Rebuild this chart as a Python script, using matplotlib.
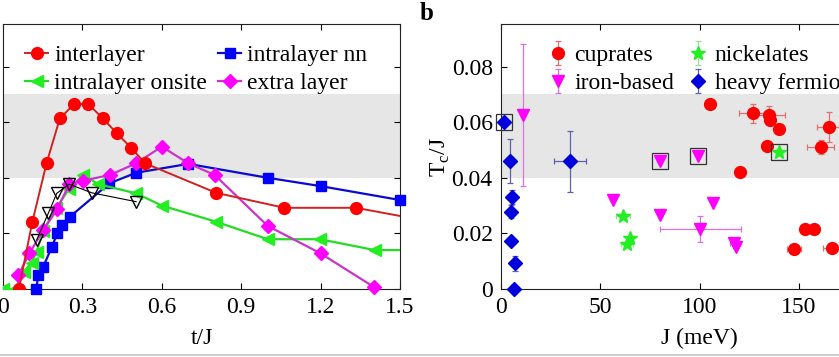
import matplotlib
matplotlib.use("Agg")
import matplotlib.pyplot as plt
from matplotlib.lines import Line2D
import numpy as np

plt.rcParams["font.family"] = ["Liberation Serif", "DejaVu Serif"]
plt.rcParams["mathtext.fontset"] = "custom"
plt.rcParams["mathtext.rm"] = "Liberation Serif"
plt.rcParams["font.size"] = 17

# ---- panel a: Tc/J vs t/J ----
t_inter = [0.06, 0.111, 0.165, 0.215, 0.269, 0.322, 0.377, 0.43, 0.484, 0.537, 0.805, 1.063, 1.334, 1.6]
tc_inter = [0, 0.0242, 0.0454, 0.0614, 0.0665, 0.0665, 0.0614, 0.056, 0.0508, 0.0452, 0.0346, 0.0292, 0.0292, 0.0245]

t_nn = [0.125, 0.134, 0.152, 0.184, 0.205, 0.224, 0.253, 0.402, 0.503, 0.70, 1.0, 1.2, 1.5]
tc_nn = [0, 0.005, 0.008, 0.015, 0.020, 0.023, 0.026, 0.038, 0.0418, 0.045, 0.040, 0.037, 0.032]

t_onsite = [0.0, 0.045, 0.079, 0.108, 0.127, 0.152, 0.2, 0.25, 0.304, 0.36, 0.503, 0.60, 0.805, 1.0, 1.198, 1.404, 1.6]
tc_onsite = [0, 0, 0.0062, 0.0095, 0.0134, 0.021, 0.029, 0.036, 0.041, 0.0377, 0.0344, 0.030, 0.0242, 0.0179, 0.0179, 0.014, 0.014]

t_extra = [0.058, 0.10, 0.152, 0.205, 0.25, 0.304, 0.404, 0.503, 0.60, 0.70, 0.80, 1.0, 1.2, 1.4]
tc_extra = [0.005, 0.0128, 0.0212, 0.0287, 0.0377, 0.039, 0.041, 0.0452, 0.0512, 0.0452, 0.041, 0.0227, 0.0128, 0.0008]

t_black = [0.127, 0.171, 0.203, 0.25, 0.335, 0.503]
tc_black = [0.0176, 0.0272, 0.0344, 0.0377, 0.0346, 0.0314]

# ---- panel b: Tc/J vs J for material families ----
cu_J = [105.2, 127.1, 135.0, 135.3, 140.0, 134.2, 120.2, 165.3, 161.1, 153.2, 157.7, 147.6, 166.5]
cu_tc = [0.0665, 0.0632, 0.0625, 0.0608, 0.0574, 0.0516, 0.042, 0.0582, 0.0512, 0.0215, 0.0215, 0.0143, 0.0146]
cu_Jerr = [0, 7.4, 8.0, 0, 0, 0, 0, 5.9, 6.7, 0, 0, 3.4, 4.5]
cu_tcerr = [0, 0.0035, 0.0034, 0, 0, 0, 0, 0.0053, 0.0025, 0, 0, 0, 0]

fe_J = [11.3, 80.0, 99.2, 56.4, 80.0, 106.9, 100.5, 117.5, 118.5]
fe_tc = [0.0625, 0.0462, 0.0478, 0.032, 0.0266, 0.031, 0.0215, 0.0165, 0.0152]
fe_Jerr = [0, 0, 0, 0, 0, 0, 20.2, 2.0, 0]
fe_tcerr = [0.0255, 0, 0, 0, 0, 0, 0.0046, 0, 0]

ni_J = [140.0, 61.5, 65.2, 63.5]
ni_tc = [0.0494, 0.0263, 0.0182, 0.0162]
ni_Jerr = [0, 3.4, 0, 3.0]
ni_tcerr = [0, 0, 0, 0]

hf_J = [1.7, 4.5, 34.8, 5.4, 4.9, 4.9, 7.1, 6.6]
hf_tc = [0.0602, 0.046, 0.046, 0.0332, 0.0278, 0.0174, 0.0092, 0.0]
hf_Jerr = [0, 0, 7.9, 0, 0, 0, 0, 0]
hf_tcerr = [0, 0.0078, 0.011, 0.0025, 0.0024, 0, 0.0028, 0]

box_J = [1.7, 80.0, 99.2, 140.0]
box_tc = [0.0602, 0.0462, 0.0478, 0.0494]

yticks = [0, 0.02, 0.04, 0.06, 0.08]
ytick_labels = ["0", "0.02", "0.04", "0.06", "0.08"]
a_xticks = [0, 0.3, 0.6, 0.9, 1.2, 1.5]
a_xtick_labels = ["0", "0.3", "0.6", "0.9", "1.2", "1.5"]
b_xticks = [0, 50, 100, 150, 200]

W, H = 839, 357
fig = plt.figure(figsize=(W / 100, H / 100), dpi=100)
axa = fig.add_axes([3 / W, 68 / H, 397 / W, 265 / H])
axb = fig.add_axes([501 / W, 68 / H, 397 / W, 265 / H])

for ax in (axa, axb):
    ax.axhspan(0.04, 0.07, color="#e6e6e6", zorder=0, lw=0)
    ax.set_ylim(0, 0.0953)
    ax.set_yticks(yticks)
    ax.set_yticklabels(ytick_labels)
    ax.tick_params(direction="in", top=True, right=True, length=4, width=0.8, pad=6, labelsize=17)
    for s in ax.spines.values():
        s.set_linewidth(0.8)
        s.set_color("#222222")

# the left panel's y labels lie outside the cropped picture
axa.tick_params(labelleft=False)

# panel a
axa.plot(t_nn, tc_nn, "-s", color="#0a0ad0", mfc="#0000ff", mec="#0000ff", ms=6.5, lw=1.6,
         label="intralayer nn", clip_on=False, zorder=3)
axa.plot(t_onsite, tc_onsite, "-<", color="#22dd22", mfc="#22ee22", mec="#22ee22", ms=8.5, lw=1.6,
         label="intralayer onsite", zorder=3)
axa.plot(t_extra, tc_extra, "-D", color="#cc33cc", mfc="#ff00ff", mec="#ff00ff", ms=7.5, lw=1.6,
         label="extra layer", clip_on=False, zorder=4)
axa.plot(t_inter, tc_inter, "-o", color="#d42020", mfc="#ff0000", mec="#ff0000", ms=8.5, lw=1.4,
         label="interlayer", zorder=5)
axa.plot(t_black, tc_black, "-v", color="black", mfc="none", mec="black", ms=8, lw=0.8, zorder=6)

axa.set_xlim(0, 1.5)
axa.set_xticks(a_xticks)
axa.set_xticklabels(a_xtick_labels)
axa.set_xlabel("t/J", labelpad=7)

h, l = axa.get_legend_handles_labels()
order = [3, 1, 0, 2]  # interlayer, onsite | nn, extra
axa.legend([h[i] for i in order], [l[i] for i in order], ncol=2, frameon=False,
           loc="upper left", bbox_to_anchor=(0.055, 0.922), borderpad=0, borderaxespad=0,
           handlelength=1.0, handletextpad=0.25, columnspacing=0.45, labelspacing=0.28, fontsize=17)

# panel b
ekw = dict(ls="none", elinewidth=0.9, capsize=2.5, capthick=0.9, clip_on=False)
axb.errorbar(cu_J, cu_tc, xerr=cu_Jerr, yerr=cu_tcerr, fmt="o", ms=8.5, color="#ff0000",
             ecolor="#e07070", zorder=4, **ekw)
axb.errorbar(fe_J, fe_tc, xerr=fe_Jerr, yerr=fe_tcerr, fmt="v", ms=9, color="#ff00ff",
             ecolor="#e070e0", zorder=4, **ekw)
axb.errorbar(ni_J, ni_tc, xerr=ni_Jerr, yerr=ni_tcerr, fmt="*", ms=10, color="#22ee22",
             ecolor="#99e099", zorder=4, **ekw)
axb.errorbar(hf_J, hf_tc, xerr=hf_Jerr, yerr=hf_tcerr, fmt="D", ms=7.5, color="#0000dd",
             ecolor="#6060b0", zorder=4, **ekw)
axb.plot(box_J, box_tc, "s", mfc="none", mec="#333333", ms=11, mew=0.9, zorder=5, clip_on=False)

# legend proxies with only vertical error bars, like the original
pkw = dict(ls="none", elinewidth=0.9, capsize=2.5, capthick=0.9)
p1 = axb.errorbar([np.nan], [np.nan], yerr=[1], fmt="o", ms=8.5, color="#ff0000", ecolor="#e07070", **pkw)
p2 = axb.errorbar([np.nan], [np.nan], yerr=[1], fmt="v", ms=9, color="#ff00ff", ecolor="#e070e0", **pkw)
p3 = axb.errorbar([np.nan], [np.nan], yerr=[1], fmt="*", ms=10, color="#22ee22", ecolor="#99e099", **pkw)
p4 = axb.errorbar([np.nan], [np.nan], yerr=[1], fmt="D", ms=7.5, color="#0000dd", ecolor="#6060b0", **pkw)
axb.legend([p1, p2, p3, p4], ["cuprates", "iron-based", "nickelates", "heavy fermions"], ncol=2,
           frameon=False, loc="upper left", bbox_to_anchor=(0.12, 0.922), borderpad=0, borderaxespad=0,
           handlelength=0.8, handletextpad=0.3, columnspacing=0.6, labelspacing=0.28, fontsize=17)

axb.set_xlim(0, 200)
axb.set_xticks(b_xticks)
axb.set_xlabel("J (meV)", labelpad=7)
axb.set_ylabel(r"T$_{\rm c}$/J", labelpad=0)

fig.text(427 / W, 1 - 14 / H, "b", fontweight="bold", fontsize=18, ha="center", va="center")
fig.add_artist(Line2D([0, 1], [2 / H, 2 / H], color="#cfcfcf", lw=1.5))

fig.savefig("out.png", dpi=100)
